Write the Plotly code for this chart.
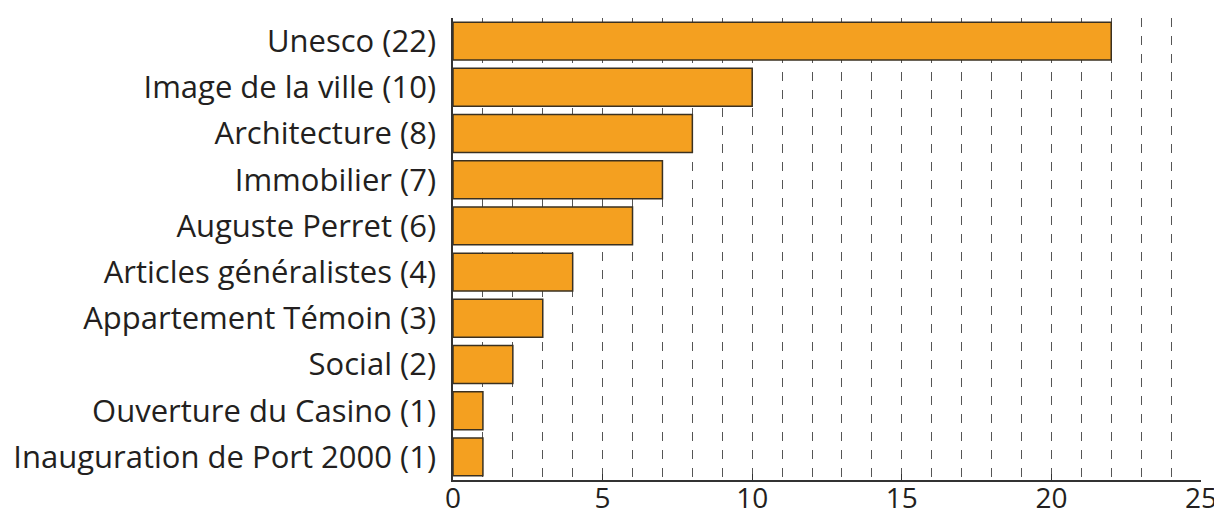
import plotly.graph_objects as go

categories = [
    "Unesco (22)",
    "Image de la ville (10)",
    "Architecture (8)",
    "Immobilier (7)",
    "Auguste Perret (6)",
    "Articles généralistes (4)",
    "Appartement Témoin (3)",
    "Social (2)",
    "Ouverture du Casino (1)",
    "Inauguration de Port 2000 (1)",
]
values = [22, 10, 8, 7, 6, 4, 3, 2, 1, 1]
x_ticks = [0, 5, 10, 15, 20, 25]

fig = go.Figure(
    go.Bar(
        x=values,
        y=categories,
        orientation="h",
        width=0.82,
        marker=dict(color="#F4A020", line=dict(color="#3a3020", width=1.5)),
    )
)

fig.update_layout(
    width=1214,
    height=508,
    margin=dict(l=445, r=21, t=10, b=36),
    paper_bgcolor="white",
    plot_bgcolor="white",
    font=dict(family="Open Sans", size=31, color="#231f20"),
    showlegend=False,
)
fig.update_xaxes(
    range=[0, 25],
    tickvals=x_ticks,
    showgrid=True,
    gridcolor="#555555",
    gridwidth=1,
    griddash="dash",
    minor=dict(dtick=1, showgrid=True, gridcolor="#555555", gridwidth=1, griddash="dash"),
    showline=True,
    linecolor="#333333",
    linewidth=1.5,
    ticks="inside",
    ticklen=6,
    tickcolor="#333333",
    tickfont=dict(size=28),
    ticklabelstandoff=-7,
    zeroline=False,
    automargin=False,
)
fig.update_yaxes(
    categoryorder="array",
    categoryarray=categories[::-1],
    range=[-0.5, 9.5],
    showline=True,
    linecolor="#333333",
    linewidth=1.5,
    ticks="",
    ticklabelstandoff=9,
    showgrid=False,
    tickfont=dict(size=31),
    automargin=False,
)

fig.write_html("out.html")
